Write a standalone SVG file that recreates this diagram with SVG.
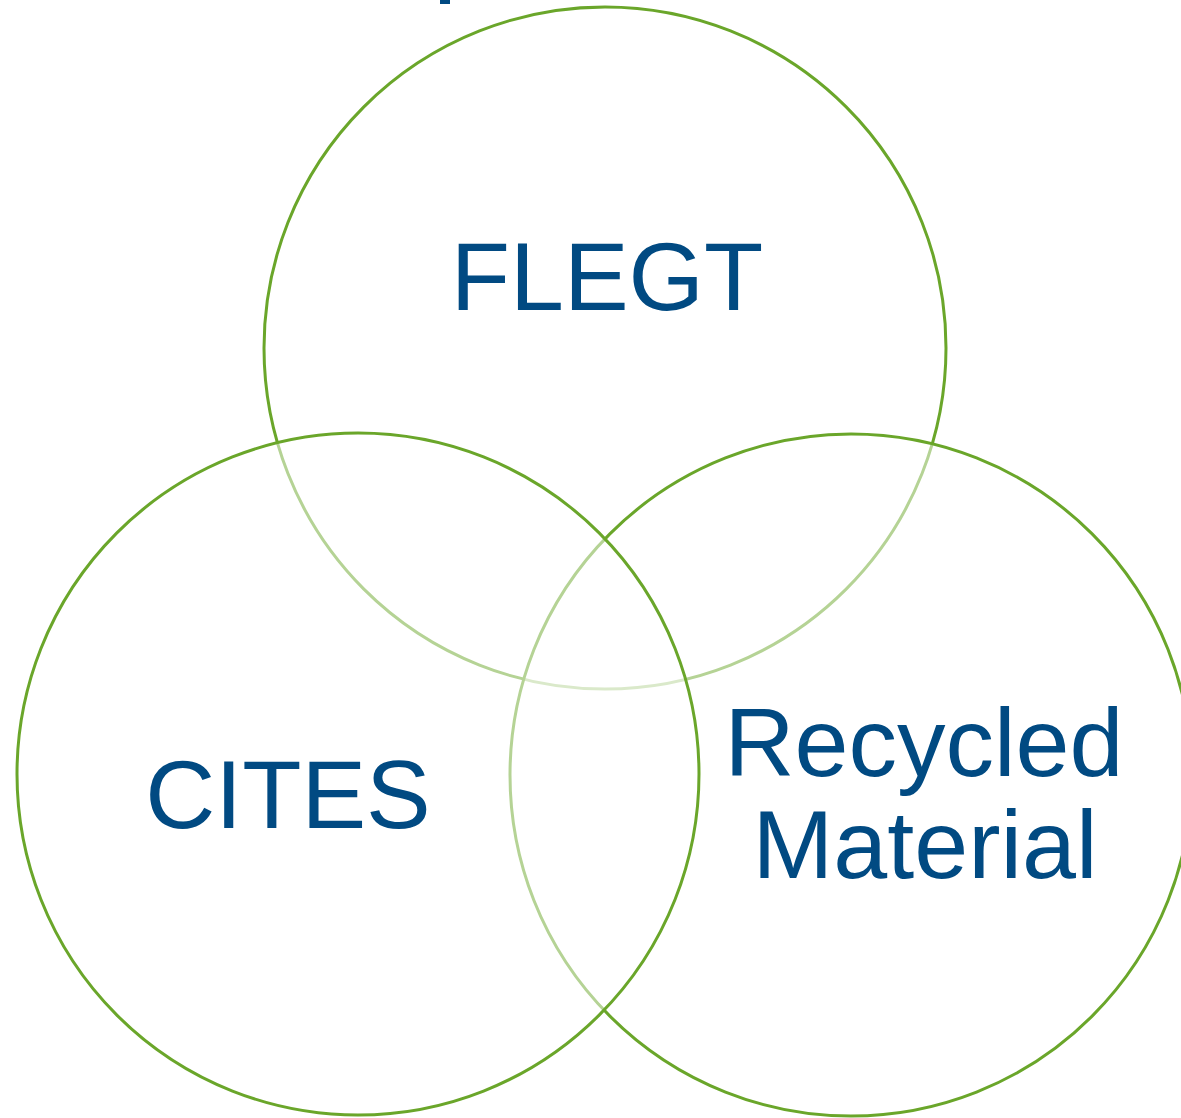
<svg xmlns="http://www.w3.org/2000/svg" width="1181" height="1118" viewBox="0 0 1181 1118">
<style>
.c{fill:#ffffff;fill-opacity:0.5;stroke:#6aa62a;stroke-width:3}
.t{font-family:"Liberation Sans",Arial,sans-serif;font-size:97px;fill:#014a82;text-anchor:middle}
</style>
<rect width="1181" height="1118" fill="#ffffff"/>
<rect x="440" y="0" width="10" height="4" fill="#014a82"/>
<g id="flegt"><circle class="c" cx="605" cy="348" r="341"/></g>
<g id="recycled"><circle class="c" cx="851" cy="775" r="341"/></g>
<g id="cites"><circle class="c" cx="358" cy="774" r="341"/></g>
<g id="labels">
<text class="t" x="607" y="310">FLEGT</text>
<text class="t" x="288" y="828">CITES</text>
<text class="t" x="924" y="776">Recycled</text>
<text class="t" x="925" y="878">Material</text>
</g>
</svg>
